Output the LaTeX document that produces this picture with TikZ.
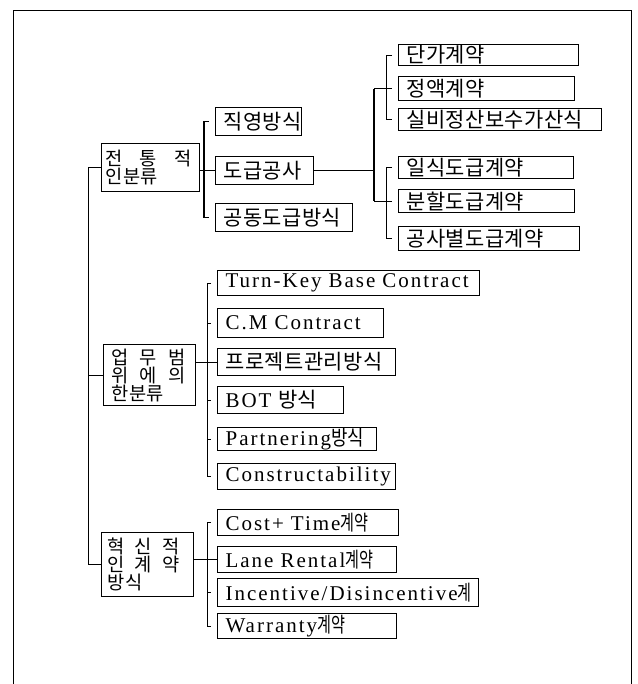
\documentclass[tikz,border=0pt]{standalone}
\usepackage{fontspec}
\setmainfont{Liberation Serif}[LetterSpace=9.5]
\newfontfamily\krfont[Scale=1.1, LetterSpace=2]{Noto Sans CJK KR}
\newfontfamily\krnarrow[FakeStretch=0.72]{Noto Sans CJK KR}
\newfontfamily\krmid[FakeStretch=0.85]{Noto Sans CJK KR}
\newfontfamily\krplain{Noto Sans CJK KR}
\newcommand\kr[1]{{\krfont #1}}
\newcommand\krn[1]{{\krnarrow #1}}
\newcommand\krm[1]{{\krmid #1}}
\newcommand\krp[1]{{\krplain #1}}
\usetikzlibrary{shadows}
\tikzset{
  kidbox/.style={draw, line width=1.2pt, fill=white, anchor=north west,
    inner xsep=8pt, inner ysep=0pt, align=left,
    font=\fontsize{19pt}{17pt}\selectfont,
    general shadow={shadow xshift=0.8pt, shadow yshift=-0.8pt, fill=black}},
  latbox/.style={kidbox, font=\fontsize{21pt}{19pt}\selectfont},
  parentbox/.style={kidbox, font={\fontsize{17pt}{18pt}\selectfont\krfont}},
  conn/.style={line width=1.1pt},
  tick/.style={conn, shorten >=6pt},
  brk/.style={conn, shorten <=6pt, shorten >=6pt},
}
\begin{document}
\begin{tikzpicture}[x=1pt, y=-1pt]
\useasboundingbox (0,0) rectangle (637,684);
% frame
\draw[line width=1.2pt] (13.5,684) -- (13.5,10.5) -- (631.5,10.5) -- (631.5,684);

% parents
\node[parentbox, inner xsep=4pt, minimum width=98pt, minimum height=48pt, text width=90pt] (A1) at (101,143)
  {전\kern17pt 통\kern17pt 적\\인분류};
\node[parentbox, inner xsep=8pt, minimum width=92pt, minimum height=61pt, text width=76pt] (A2) at (103,344)
  {업\kern11pt 무\kern11pt 범\\위\kern11pt 에\kern11pt 의\\한분류};
\node[parentbox, inner xsep=6pt, minimum width=92pt, minimum height=64pt, text width=80pt] (A3) at (101,532)
  {혁\kern10pt 신\kern10pt 적\\인\kern10pt 계\kern10pt 약\\방식};

% group 1
\node[kidbox, minimum width=86pt, minimum height=28pt, text width=70pt] (B1) at (215,107) {\kr{직영방식}};
\node[kidbox, minimum width=98pt, minimum height=28pt, text width=82pt] (B2) at (215,156) {\kr{도급공사}};
\node[kidbox, minimum width=137pt, minimum height=28pt, text width=121pt] (B3) at (215,203) {\kr{공동도급방식}};

% group 1b
\node[kidbox, minimum width=180pt, minimum height=21pt, text width=164pt] (C1) at (398,44) {\kr{단가계약}};
\node[kidbox, minimum width=176pt, minimum height=24pt, text width=160pt] (C2) at (398,76) {\kr{정액계약}};
\node[kidbox, minimum width=203pt, minimum height=22pt, text width=187pt] (C3) at (398,108) {\kr{실비정산보수가산식}};
\node[kidbox, minimum width=175pt, minimum height=22pt, text width=159pt] (D1) at (398,156) {\kr{일식도급계약}};
\node[kidbox, minimum width=176pt, minimum height=23pt, text width=160pt] (D2) at (398,189) {\kr{분할도급계약}};
\node[kidbox, minimum width=181pt, minimum height=24pt, text width=165pt] (D3) at (398,226) {\kr{공사별도급계약}};

% group 2
\node[latbox, minimum width=262pt, minimum height=25pt, text width=246pt] (P1) at (217,270) {Turn-Key Base Contract};
\node[latbox, minimum width=166pt, minimum height=29pt, text width=150pt] (P2) at (217,308) {C.M Contract};
\node[kidbox, minimum width=178pt, minimum height=27pt, text width=162pt] (P3) at (217,348) {\kr{프로젝트관리방식}};
\node[latbox, minimum width=126pt, minimum height=27pt, text width=110pt] (P4) at (217,386) {BOT \krp{방식}};
\node[latbox, minimum width=159pt, minimum height=23pt, text width=143pt] (P5) at (217,427) {Partnering\krm{방식}};
\node[latbox, minimum width=178pt, minimum height=26pt, text width=162pt] (P6) at (217,463) {Constructability};

% group 3
\node[latbox, minimum width=181pt, minimum height=26pt, text width=165pt] (Q1) at (217,509) {Cost+ Time\krn{계약}};
\node[latbox, minimum width=179pt, minimum height=26pt, text width=163pt] (Q2) at (217,546) {Lane Rental\krn{계약}};
\node[latbox, minimum width=261pt, minimum height=28pt, text width=245pt] (Q3) at (217,578) {Incentive/Disincentive\krn{계}};
\node[latbox, minimum width=179pt, minimum height=25pt, text width=163pt] (Q4) at (217,613) {Warranty\krn{계약}};

% connectors
\coordinate (T) at (88.5,0);
\coordinate (G1) at (204,0);
\coordinate (J) at (374,0);
\coordinate (K) at (386.7,0);
\coordinate (G2) at (207.7,0);

\draw[conn] (A1.west) -- (A1.west -| T) -- (A3.west -| T) -- (A3.west);
\draw[conn] (A2.west -| T) -- (A2.west);

\draw[brk] (B1.west) -- (B1.west -| G1) -- (B3.west -| G1) -- (B3.west);
\draw[conn] (A1.east |- B2.west) -- (B2.west);

\draw[conn] (B2.east) -- (B2.east -| J);
\draw[conn] (C2.west -| J) -- (D2.west -| J);
\draw[brk] (C1.west) -- (C1.west -| K) -- (C3.west -| K) -- (C3.west);
\draw[tick] (C2.west -| J) -- (C2.west);
\draw[brk] (D1.west) -- (D1.west -| K) -- (D3.west -| K) -- (D3.west);
\draw[tick] (D2.west -| J) -- (D2.west);

\draw[brk] (P1.west) -- (P1.west -| G2) -- (P6.west -| G2) -- (P6.west);
\draw[tick] (P2.west -| G2) -- (P2.west);
\draw[tick] (P4.west -| G2) -- (P4.west);
\draw[tick] (P5.west -| G2) -- (P5.west);
\draw[conn] (A2.east |- P3.west) -- (P3.west);

\draw[brk] (Q1.west) -- (Q1.west -| G2) -- (Q4.west -| G2) -- (Q4.west);
\draw[tick] (Q3.west -| G2) -- (Q3.west);
\draw[conn] (A3.east |- Q2.west) -- (Q2.west);
\end{tikzpicture}
\end{document}
